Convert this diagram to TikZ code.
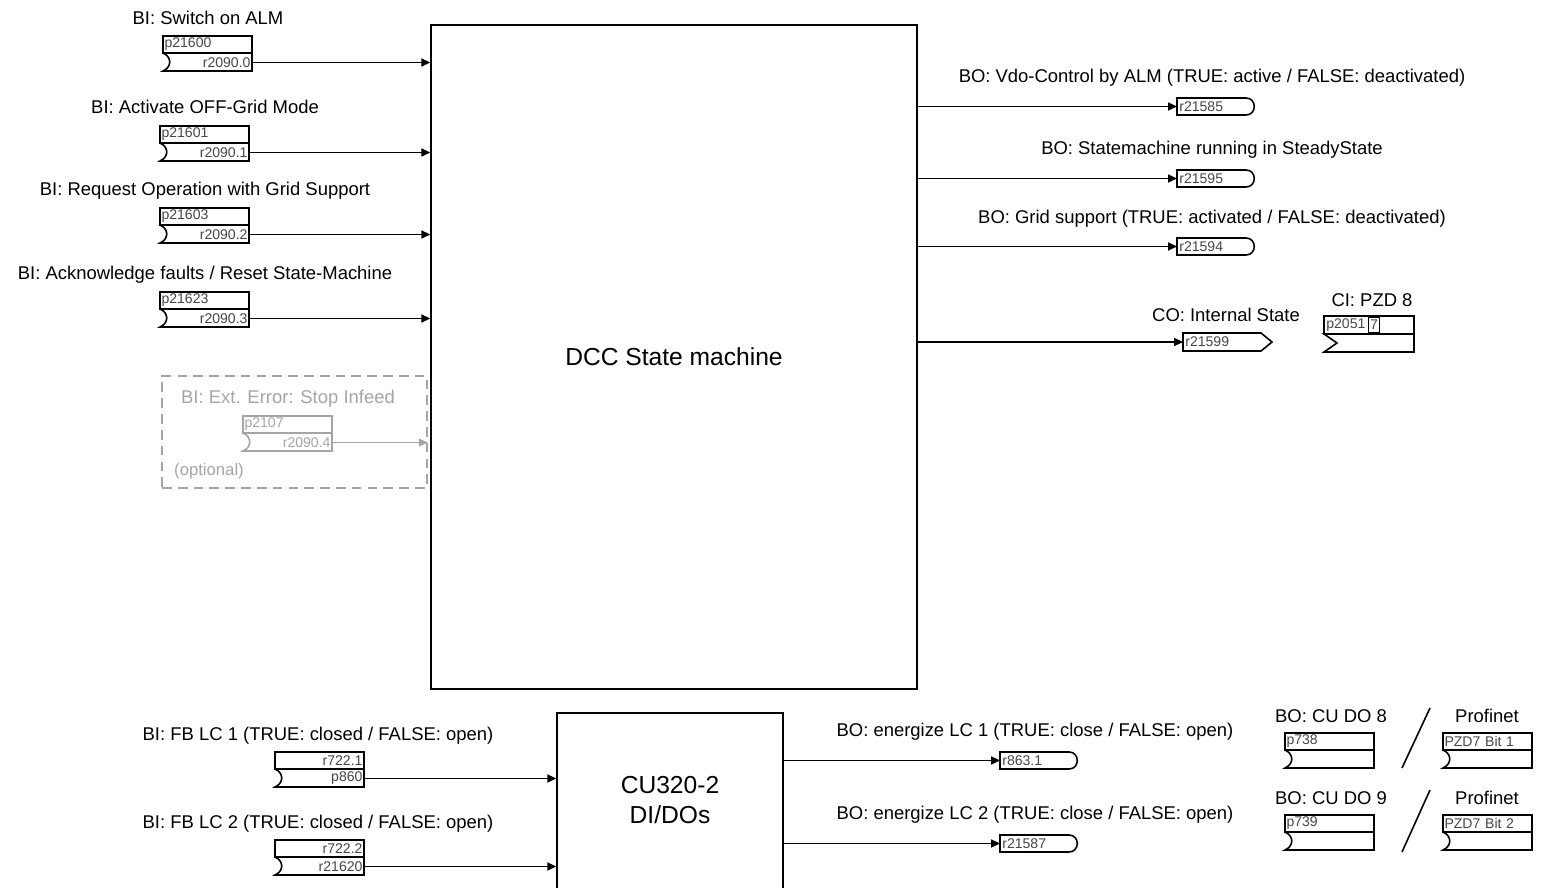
\documentclass[tikz,border=0pt]{standalone}
\usepackage{fontspec}
\setmainfont{Liberation Sans}
\usetikzlibrary{arrows.meta, positioning}
\definecolor{optgray}{RGB}{165,165,165}
\definecolor{boxtext}{RGB}{70,70,70}
\newcommand\pxfont{\fontsize{8}{9}\selectfont}
\newcommand\lblfont{\fontsize{10.5}{12.6}\selectfont}

\tikzset{
    cbox/.style={draw, line width=0.9pt},
    toptxt/.style={inner sep=0pt, text width=1.72cm, align=left, font=\pxfont, text=boxtext},
    bottxt/.style={inner sep=0pt, text width=1.72cm, align=right, font=\pxfont, text=boxtext},
    outtxt/.style={inner sep=0pt, anchor=west, font=\pxfont, text=boxtext},
    % binector input: parameter on top, source below
    pics/binbox/.style 2 args={code={
        \draw[cbox] (0,0) rectangle (89,17);
        \draw[cbox] (0,17) -- (89,17) -- (89,35) -- (0,35) .. controls (9,31) and (9,21) .. (0,17);
        \node[toptxt] (-p) at (44.5,8.5) {#1};
        \node[bottxt] (-r) at (44.5,26.5) {#2};
        \coordinate (-out) at (89,26.5);
    }},
    % binector output
    pics/bobox/.style={code={
        \draw[cbox] (0,0) -- (69,0) .. controls (80,0) and (80,17) .. (69,17) -- (0,17) -- cycle;
        \node[outtxt] (-r) at (2,8.5) {#1};
        \coordinate (-in) at (0,8.5);
    }},
    % connector output
    pics/cobox/.style={code={
        \draw[cbox] (0,0) -- (78,0) -- (89,9) -- (78,18) -- (0,18) -- cycle;
        \node[outtxt] (-r) at (2,9) {#1};
        \coordinate (-in) at (0,9);
    }},
    % connector input
    pics/cibox/.style={code={
        \draw[cbox] (0,0) rectangle (90,18);
        \draw[cbox] (0,18) -- (90,18) -- (90,36) -- (0,36) -- (13,27) -- cycle;
        \node[outtxt] (-p) at (2,9) {#1};
        \node[draw, line width=0.9pt, inner sep=0.8pt, minimum height=0.3cm, font=\pxfont, text=boxtext] (-i) at (50,9) {7};
    }}
}

\begin{document}
\begin{tikzpicture}[
        x=0.02cm, y=-0.02cm,
        mainbox/.style={draw, line width=0.9pt, inner sep=0pt, font=\fontsize{14}{17}\selectfont},
        lbl/.style={inner sep=0pt, anchor=base, font=\lblfont},
        arrow/.style={-{Triangle[length=5pt, width=4.5pt]}, line width=0.9pt},
        optbox/.style={draw=optgray, dashed, dash pattern=on 5.5pt off 3.5pt, line width=0.9pt}
    ]
    \useasboundingbox (0,0) rectangle (1546,888);

    \node[mainbox, minimum width=9.72cm, minimum height=13.28cm] (dcc) at (674,357) {DCC State machine};
    \node[mainbox, minimum width=4.52cm, minimum height=4cm, anchor=north] (cu) at (670,712) {};
    \node[align=center, inner sep=0pt, font=\fontsize{14}{17}\selectfont] (cutxt) at (670,800) {CU320-2\\DI/DOs};

    % inputs
    \node[lbl] (in1-lbl) at (208,25) {BI: Switch on ALM};
    \pic (in1) at (163,36) {binbox={p21600}{r2090.0}};
    \node[lbl] (in2-lbl) at (205,114) {BI: Activate OFF-Grid Mode};
    \pic (in2) at (160,126) {binbox={p21601}{r2090.1}};
    \node[lbl] (in3-lbl) at (205,196) {BI: Request Operation with Grid Support};
    \pic (in3) at (160,208) {binbox={p21603}{r2090.2}};
    \node[lbl] (in4-lbl) at (205,280) {BI: Acknowledge faults / Reset State-Machine};
    \pic (in4) at (160,292) {binbox={p21623}{r2090.3}};

    \draw[arrow] (in1-out) -- (in1-out -| dcc.west);
    \draw[arrow] (in2-out) -- (in2-out -| dcc.west);
    \draw[arrow] (in3-out) -- (in3-out -| dcc.west);
    \draw[arrow] (in4-out) -- (in4-out -| dcc.west);

    % optional input
    \node[optbox, minimum width=5.3cm, minimum height=2.24cm] (opt) at (294.5,432) {};
    \node[lbl, text=optgray] (ext-lbl) at (288,404) {BI: Ext. Error: Stop Infeed};
    \pic[color=optgray, toptxt/.append style={text=optgray}, bottxt/.append style={text=optgray}] (ext) at (243,416) {binbox={p2107}{r2090.4}};
    \node[lbl, text=optgray, font=\fontsize{9.5}{11}\selectfont] (opt-lbl) at (209,476) {(optional)};
    \draw[arrow, optgray, line width=0.6pt] (ext-out) -- (ext-out -| opt.east);

    % outputs
    \node[lbl] (bo1-lbl) at (1212,83) {BO: Vdo-Control by ALM (TRUE: active / FALSE: deactivated)};
    \pic (bo1) at (1177,98) {bobox=r21585};
    \node[lbl] (bo2-lbl) at (1212,155) {BO: Statemachine running in SteadyState};
    \pic (bo2) at (1177,170) {bobox=r21595};
    \node[lbl] (bo3-lbl) at (1212,224) {BO: Grid support (TRUE: activated / FALSE: deactivated)};
    \pic (bo3) at (1177,238) {bobox=r21594};
    \node[lbl] (co-lbl) at (1226,322) {CO: Internal State};
    \pic (co) at (1183,333) {cobox=r21599};
    \node[lbl] (ci-lbl) at (1372,307) {CI: PZD 8};
    \pic (ci) at (1324,316) {cibox=p2051};

    \draw[arrow] (bo1-in -| dcc.east) -- (bo1-in);
    \draw[arrow] (bo2-in -| dcc.east) -- (bo2-in);
    \draw[arrow] (bo3-in -| dcc.east) -- (bo3-in);
    \draw[arrow] (co-in -| dcc.east) -- (co-in);

    % CU320-2 inputs
    \node[lbl] (fb1-lbl) at (318,740) {BI: FB LC 1 (TRUE: closed / FALSE: open)};
    \pic[toptxt/.append style={align=right}] (fb1) at (275,752) {binbox={r722.1}{p860}};
    \node[lbl] (fb2-lbl) at (318,828) {BI: FB LC 2 (TRUE: closed / FALSE: open)};
    \pic[toptxt/.append style={align=right}] (fb2) at (275,840) {binbox={r722.2}{r21620}};

    \draw[arrow] (fb1-out) -- (fb1-out -| cu.west);
    \draw[arrow] (fb2-out) -- (fb2-out -| cu.west);

    % CU320-2 outputs
    \node[lbl] (lc1-lbl) at (1035,736) {BO: energize LC 1 (TRUE: close / FALSE: open)};
    \pic (lc1) at (1000,752) {bobox=r863.1};
    \node[lbl] (lc2-lbl) at (1035,819) {BO: energize LC 2 (TRUE: close / FALSE: open)};
    \pic (lc2) at (1000,835) {bobox=r21587};

    \draw[arrow] (lc1-in -| cu.east) -- (lc1-in);
    \draw[arrow] (lc2-in -| cu.east) -- (lc2-in);

    % digital outputs / profinet
    \node[lbl] (do8-lbl) at (1331,722) {BO: CU DO 8};
    \pic (do8) at (1285,733) {binbox={p738}{}};
    \node[lbl] (pn1-lbl) at (1487,722) {Profinet};
    \pic (pn1) at (1443,733) {binbox={PZD7 Bit 1}{}};
    \draw[line width=0.9pt] (1402,768) -- (1430,708);

    \node[lbl] (do9-lbl) at (1331,804) {BO: CU DO 9};
    \pic (do9) at (1285,815) {binbox={p739}{}};
    \node[lbl] (pn2-lbl) at (1487,804) {Profinet};
    \pic (pn2) at (1443,815) {binbox={PZD7 Bit 2}{}};
    \draw[line width=0.9pt] (1402,852) -- (1430,790);
\end{tikzpicture}
\end{document}
